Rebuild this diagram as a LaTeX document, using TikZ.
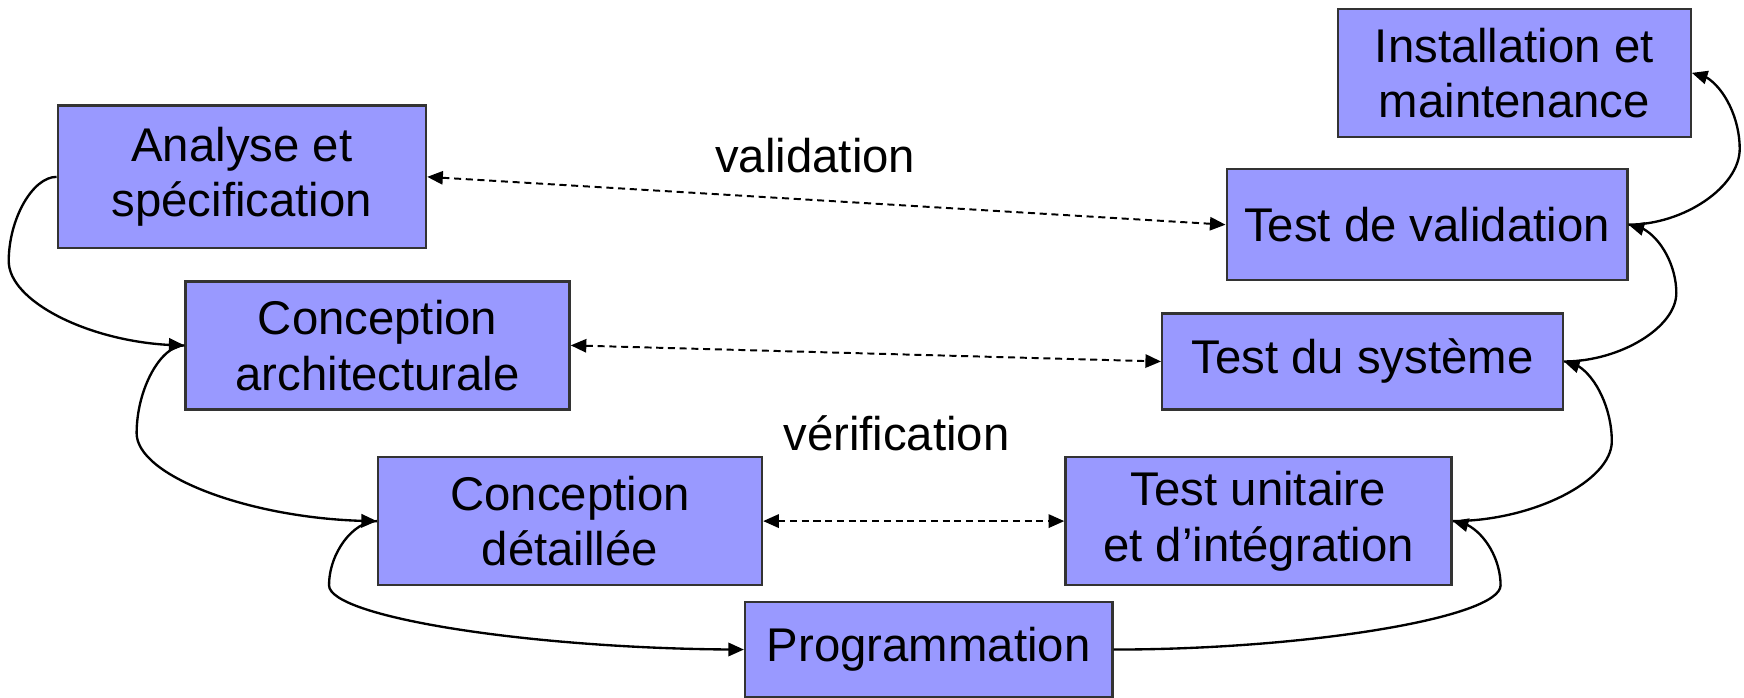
\documentclass[tikz,border=0pt]{standalone}
\usepackage{fontspec}
\setmainfont{Liberation Sans}
\usetikzlibrary{arrows.meta, bending}

\definecolor{phasefill}{RGB}{153,153,255}

\begin{document}
\begin{tikzpicture}[x=0.01cm, y=-0.01cm, line width=0.6pt,
    phase/.style={draw=black!80, fill=phasefill, align=center, inner sep=0pt,
        font=\fontsize{12.1}{14.2}\selectfont},
    tag/.style={font=\fontsize{12.1}{14.2}\selectfont},
    flow/.style={-{Triangle[length=1.4mm, width=1.2mm, flex]}},
    check/.style={{Triangle[length=1.4mm, width=1.2mm]}-{Triangle[length=1.4mm, width=1.2mm]},
        dash pattern=on 1.8pt off 1.2pt, line width=0.5pt}]

\useasboundingbox (0,0) rectangle (1568,627);

% left branch of the V
\node[phase, minimum width=3.31cm, minimum height=1.28cm] (analyse) at (217.5,159) {Analyse et\\spécification};
\node[phase, minimum width=3.45cm, minimum height=1.15cm] (archi) at (339.5,310.5) {Conception\\architecturale};
\node[phase, minimum width=3.45cm, minimum height=1.15cm] (detail) at (512.5,468.5) {Conception\\détaillée};

% bottom
\node[phase, minimum width=3.30cm, minimum height=0.86cm] (prog) at (835,584) {Programmation};

% right branch of the V
\node[phase, minimum width=3.47cm, minimum height=1.15cm] (unitaire) at (1131.5,468.5) {Test unitaire\\et d’intégration};
\node[phase, minimum width=3.60cm, minimum height=0.86cm] (systeme) at (1225,325) {Test du système};
\node[phase, minimum width=3.60cm, minimum height=1.00cm] (valid) at (1283,202) {Test de validation};
\node[phase, minimum width=3.17cm, minimum height=1.15cm] (install) at (1361.5,65.5) {Installation et\\maintenance};

% labels
\node[tag] (validation) at (733,140) {validation};
\node[tag] (verification) at (806,390) {vérification};

% going down: hook out of the west side, then a long sweep
% \dx,\dy = turning point from the start, \ex = last handle
\foreach \a/\b/\dx/\dy/\ex in {analyse/archi/-43/75.75/-79,
                               archi/detail/-43/79/-108}
{
    \draw[flow] (\a.west) .. controls +({\dx/2},0) and +(0,{-(\dy)/2}) .. ++(\dx,\dy)
                          .. controls +(0,{(\dy)/2}) and +(\ex,0) .. (\b.west);
}
\draw[flow] (detail.west) .. controls +(-21.5,0) and +(0,-28.9) .. ++(-43,57.75)
                          .. controls +(0,28.9) and +(-186.5,0) .. (prog.west);

% going up: long sweep, then a hook into the east side
\draw[flow] (prog.east) .. controls +(174,0) and +(0,28.9) .. ++(348,-57.75)
                        .. controls +(0,-28.9) and +(21.5,0) .. (unitaire.east);
\foreach \a/\b/\dx/\dy in {unitaire/systeme/143/-71.75,
                           systeme/valid/101/-61.5,
                           valid/install/100/-68.25}
{
    \draw[flow] (\a.east) .. controls +({\dx/2},0) and +(0,{-(\dy)/2}) .. ++(\dx,\dy)
                          .. controls +(0,{(\dy)/2}) and +(21.5,0) .. (\b.east);
}

% dashed links between the two branches
\foreach \a/\b in {analyse/valid, archi/systeme, detail/unitaire}
{
    \draw[check] (\a.east) -- (\b.west);
}

\end{tikzpicture}
\end{document}
